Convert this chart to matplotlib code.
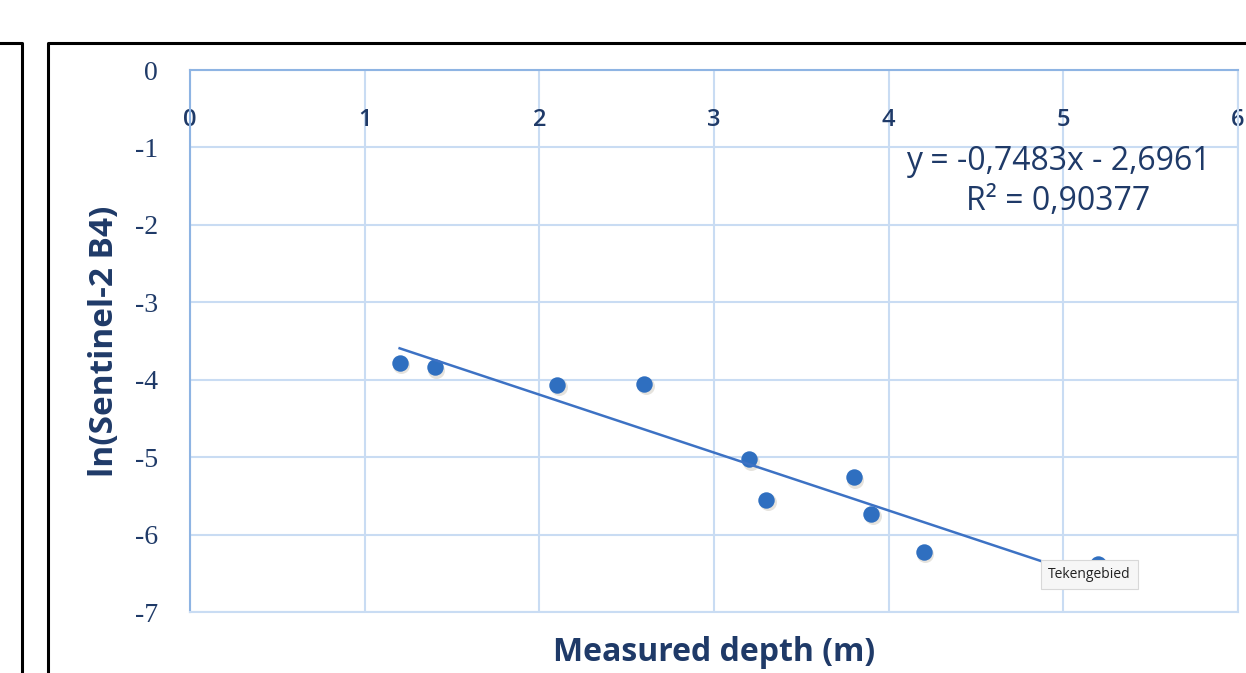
import numpy as np
import matplotlib.pyplot as plt
from matplotlib.lines import Line2D

plt.rcParams['font.family'] = ['Open Sans', 'DejaVu Sans']
plt.rcParams['axes.unicode_minus'] = False

# measured depth (m) and ln(Sentinel-2 B4)
depth = [1.2, 1.4, 2.1, 2.6, 3.2, 3.3, 3.8, 3.9, 4.2, 5.2]
ln_b4 = [-3.78, -3.84, -4.07, -4.05, -5.03, -5.55, -5.26, -5.73, -6.22, -6.38]

slope = -0.7483
intercept = -2.6961
r2_text = "0,90377"

x_ticks = [0, 1, 2, 3, 4, 5, 6]
y_ticks = [0, -1, -2, -3, -4, -5, -6, -7]

navy = "#1f3a68"
dot_blue = "#2f6fc0"
line_blue = "#3d72c4"
grid_blue = "#c9dcf3"
spine_blue = "#8eb4e3"

fig = plt.figure(figsize=(12.46, 6.73), dpi=100)
ax = fig.add_axes([190 / 1246, 1 - 612 / 673, 1048 / 1246, 542 / 673])

ax.set_xlim(0, 6)
ax.set_ylim(-7, 0)
ax.set_xticks(x_ticks)
ax.set_yticks(y_ticks)
ax.grid(True, color=grid_blue, lw=1.5)
ax.set_axisbelow(True)

for s in ax.spines.values():
    s.set_color(grid_blue)
    s.set_linewidth(1.5)
ax.spines['top'].set_color(spine_blue)
ax.spines['left'].set_color(spine_blue)

ax.tick_params(axis='x', top=True, labeltop=True, bottom=False, labelbottom=False,
               length=0, pad=-45, labelsize=17, labelcolor=navy)
ax.tick_params(axis='y', length=0, pad=23, labelsize=20, labelcolor=navy)
for lbl in ax.get_xticklabels():
    lbl.set_fontweight('semibold')
for lbl in ax.get_yticklabels():
    lbl.set_fontfamily(['Liberation Serif'])

# shadow + points
ax.scatter(np.array(depth) + 0.01, np.array(ln_b4) - 0.03, s=150, color="#b8b0a0",
           alpha=0.35, lw=0, zorder=3)
ax.scatter(depth, ln_b4, s=140, color=dot_blue, lw=0, zorder=4)

# linear trend line
xt = np.array([min(depth), max(depth)])
ax.plot(xt, slope * xt + intercept, color=line_blue, lw=1.8, zorder=5)

eq = "y = {:.4f}x - {:.4f}".format(slope, -intercept).replace(".", ",")
ax.text(4.97, -1.44, eq + "\nR² = " + r2_text, ha='center', va='center',
        fontsize=23, color=navy, linespacing=1.3, zorder=6)

ax.text(5.15, -6.51, "Tekengebied", ha='center', va='center', fontsize=10,
        color="#222222", zorder=7,
        bbox=dict(boxstyle='square,pad=0.5', fc='#f6f6f6', ec='#d8d8d8', lw=0.8))

ax.set_xlabel("Measured depth (m)", fontsize=23, fontweight='bold', color=navy, labelpad=17)
ax.set_ylabel("ln(Sentinel-2 B4)", fontsize=24, fontweight='bold', color=navy, labelpad=10)

# surrounding panel frames
W, H = 1246, 673
def fline(xs, ys):
    fig.add_artist(Line2D([x / W for x in xs], [1 - y / H for y in ys],
                          color='black', lw=2.2, transform=fig.transFigure))

fline([48, 48, 1250], [680, 43, 43])
fline([0, 22, 22], [43, 43, 680])

fig.savefig("out.png", dpi=100)
